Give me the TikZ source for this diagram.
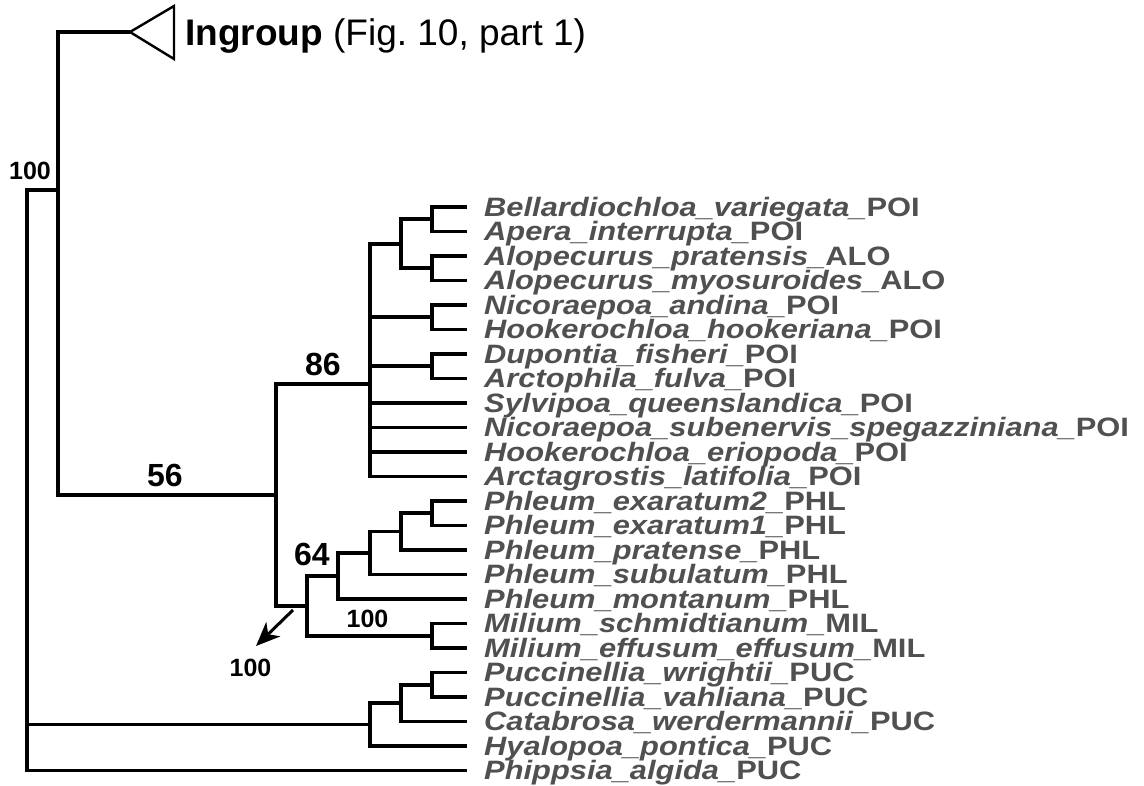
\documentclass[tikz,border=0pt]{standalone}
\usepackage{fontspec}
\setmainfont{Liberation Sans}
\usepackage{graphicx}
\usetikzlibrary{arrows.meta}
\definecolor{taxongray}{HTML}{505050}
\newcommand{\leaftext}[2]{\scalebox{1.16}[1]{\textit{#1\_}#2}}

\begin{document}
\begin{tikzpicture}[
    x=1pt, y=-1pt,
    branch/.style={line width=3.6pt},
    taxon/.style={anchor=base west, inner sep=0pt, text=taxongray, font=\fontsize{26.6}{26.6}\selectfont\bfseries},
    support/.style={inner sep=0pt, font=\fontsize{25}{25}\selectfont\bfseries},
    bigsupport/.style={inner sep=0pt, font=\fontsize{32}{32}\selectfont\bfseries},
    pointer/.style={line width=3pt, -{Stealth[length=24pt,width=20pt,inset=7pt]}}
]
\useasboundingbox (0,0) rectangle (1144,785);

% Leaf tips
\coordinate (Be)   at (467,207);
\coordinate (Ap)   at (467,231.5);
\coordinate (AlP)  at (467,256);
\coordinate (AlM)  at (467,280.5);
\coordinate (NiA)  at (467,305);
\coordinate (HoH)  at (467,329.5);
\coordinate (Du)   at (467,354);
\coordinate (ArF)  at (467,378.5);
\coordinate (Sy)   at (467,403);
\coordinate (NiS)  at (467,427.5);
\coordinate (HoE)  at (467,452);
\coordinate (ArL)  at (467,476.5);
\coordinate (PhE2) at (467,501);
\coordinate (PhE1) at (467,525.5);
\coordinate (PhP)  at (467,550);
\coordinate (PhS)  at (467,574.5);
\coordinate (PhM)  at (467,599);
\coordinate (MiS)  at (467,623.5);
\coordinate (MiE)  at (467,648);
\coordinate (PuW)  at (467,672.5);
\coordinate (PuV)  at (467,697);
\coordinate (Ca)   at (467,721.5);
\coordinate (Hy)   at (467,746);
\coordinate (Pp)   at (467,770.5);

% Taxon names
\node[taxon] (tBe)   at (484,216)   {\leaftext{Bellardiochloa\_variegata}{POI}};
\node[taxon] (tAp)   at (484,240.5) {\leaftext{Apera\_interrupta}{POI}};
\node[taxon] (tAlP)  at (484,265)   {\leaftext{Alopecurus\_pratensis}{ALO}};
\node[taxon] (tAlM)  at (484,289.5) {\leaftext{Alopecurus\_myosuroides}{ALO}};
\node[taxon] (tNiA)  at (484,314)   {\leaftext{Nicoraepoa\_andina}{POI}};
\node[taxon] (tHoH)  at (484,338.5) {\leaftext{Hookerochloa\_hookeriana}{POI}};
\node[taxon] (tDu)   at (484,363)   {\leaftext{Dupontia\_fisheri}{POI}};
\node[taxon] (tArF)  at (484,387.5) {\leaftext{Arctophila\_fulva}{POI}};
\node[taxon] (tSy)   at (484,412)   {\leaftext{Sylvipoa\_queenslandica}{POI}};
\node[taxon] (tNiS)  at (484,436.5) {\leaftext{Nicoraepoa\_subenervis\_spegazziniana}{POI}};
\node[taxon] (tHoE)  at (484,461)   {\leaftext{Hookerochloa\_eriopoda}{POI}};
\node[taxon] (tArL)  at (484,485.5) {\leaftext{Arctagrostis\_latifolia}{POI}};
\node[taxon] (tPhE2) at (484,510)   {\leaftext{Phleum\_exaratum2}{PHL}};
\node[taxon] (tPhE1) at (484,534.5) {\leaftext{Phleum\_exaratum1}{PHL}};
\node[taxon] (tPhP)  at (484,559)   {\leaftext{Phleum\_pratense}{PHL}};
\node[taxon] (tPhS)  at (484,583.5) {\leaftext{Phleum\_subulatum}{PHL}};
\node[taxon] (tPhM)  at (484,608)   {\leaftext{Phleum\_montanum}{PHL}};
\node[taxon] (tMiS)  at (484,632.5) {\leaftext{Milium\_schmidtianum}{MIL}};
\node[taxon] (tMiE)  at (484,657)   {\leaftext{Milium\_effusum\_effusum}{MIL}};
\node[taxon] (tPuW)  at (484,681.5) {\leaftext{Puccinellia\_wrightii}{PUC}};
\node[taxon] (tPuV)  at (484,706)   {\leaftext{Puccinellia\_vahliana}{PUC}};
\node[taxon] (tCa)   at (484,730.5) {\leaftext{Catabrosa\_werdermannii}{PUC}};
\node[taxon] (tHy)   at (484,755)   {\leaftext{Hyalopoa\_pontica}{PUC}};
\node[taxon] (tPp)   at (484,779.5) {\leaftext{Phippsia\_algida}{PUC}};

% Internal nodes
\coordinate (nBeAp) at (432,219.25);
\coordinate (nAlo)  at (432,268.25);
\coordinate (nBeAl) at (401,243.75);
\coordinate (nNiHo) at (432,317.25);
\coordinate (nDuAr) at (432,366.25);
\coordinate (n86)   at (370,383.75);
\coordinate (nPhE)  at (432,513.25);
\coordinate (nPhlA) at (401,531.6);
\coordinate (nPhlB) at (370,553.1);
\coordinate (nPhl)  at (338,576);
\coordinate (nMil)  at (432,635.75);
\coordinate (nB)    at (307,605.9);
\coordinate (nA)    at (276,494.8);
\coordinate (nIn)   at (58,190);
\coordinate (nPuc3) at (432,684.75);
\coordinate (nPuc2) at (401,703.1);
\coordinate (nPuc)  at (370,724.6);
\coordinate (root)  at (27,480);

% Branches
\draw[branch] (nBeAp) |- (Be) (nBeAp) |- (Ap);
\draw[branch] (nAlo) |- (AlP) (nAlo) |- (AlM);
\draw[branch] (nBeAl) |- (nBeAp) (nBeAl) |- (nAlo);
\draw[branch] (nNiHo) |- (NiA) (nNiHo) |- (HoH);
\draw[branch] (nDuAr) |- (Du) (nDuAr) |- (ArF);
\draw[branch] (n86) |- (nBeAl) (n86) |- (nNiHo) (n86) |- (nDuAr)
    (n86) |- (Sy) (n86) |- (NiS) (n86) |- (HoE) (n86) |- (ArL);
\draw[branch] (nPhE) |- (PhE2) (nPhE) |- (PhE1);
\draw[branch] (nPhlA) |- (nPhE) (nPhlA) |- (PhP);
\draw[branch] (nPhlB) |- (nPhlA) (nPhlB) |- (PhS);
\draw[branch] (nPhl) |- (nPhlB) (nPhl) |- (PhM);
\draw[branch] (nMil) |- (MiS) (nMil) |- (MiE);
\draw[branch] (nB) |- (nPhl) (nB) |- (nMil);
\draw[branch] (nA) |- (n86) (nA) |- (nB);
\draw[branch] (nPuc3) |- (PuW) (nPuc3) |- (PuV);
\draw[branch] (nPuc2) |- (nPuc3) (nPuc2) |- (Ca);
\draw[branch] (nPuc) |- (nPuc2) (nPuc) |- (Hy);
\draw[branch] (root) |- (nIn) (root) |- (nPuc) (root) |- (Pp);

% Collapsed ingroup
\coordinate (inApex) at (130,32);
\coordinate (inTop)  at (174,6);
\coordinate (inBot)  at (174,59);
\draw[branch] (nIn) |- (inApex) (nIn) |- (nA);
\draw[line width=2.4pt] (inApex) -- (inTop) -- (inBot) -- cycle;
\node[anchor=base west, inner sep=0pt, font=\fontsize{37}{37}\selectfont] (ingroup) at (185,45)
    {\textbf{Ingroup} (Fig.~10, part 1)};

% Support values
\node[support]    (bsRoot) at (30,171)    {100};
\node[bigsupport] (bs56)   at (165,475)   {56};
\node[bigsupport] (bs86)   at (323,364)   {86};
\node[bigsupport] (bs64)   at (312,554.5) {64};
\node[support]    (bsMil)  at (367.5,619) {100};
\node[support]    (bsLow)  at (250.5,668) {100};

\coordinate (arrTail) at (293,610);
\coordinate (arrTip)  at (256,646);
\draw[pointer] (arrTail) -- (arrTip);
\end{tikzpicture}
\end{document}
